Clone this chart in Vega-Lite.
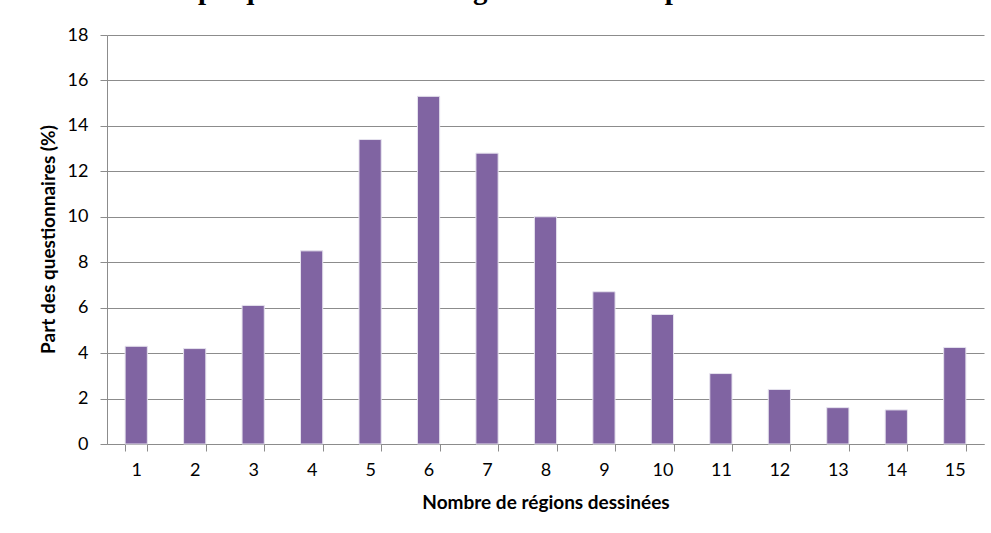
{
  "$schema": "https://vega.github.io/schema/vega-lite/v6.json",
  "width": 877,
  "height": 409,
  "autosize": "none",
  "padding": {"left": 107, "top": 35, "right": 7, "bottom": 89},
  "background": "white",
  "title": {
    "text": "Graphique : nombre de régions dessinées par les étudiants",
    "font": "Liberation Serif",
    "fontSize": 29,
    "fontWeight": "bold",
    "color": "black",
    "anchor": "middle",
    "baseline": "alphabetic",
    "offset": 0,
    "dy": 2,
    "dx": -37
  },
  "data": {
    "values": [
      {"n": 1, "pct": 4.3},
      {"n": 2, "pct": 4.2},
      {"n": 3, "pct": 6.1},
      {"n": 4, "pct": 8.5},
      {"n": 5, "pct": 13.4},
      {"n": 6, "pct": 15.3},
      {"n": 7, "pct": 12.8},
      {"n": 8, "pct": 10.0},
      {"n": 9, "pct": 6.7},
      {"n": 10, "pct": 5.7},
      {"n": 11, "pct": 3.1},
      {"n": 12, "pct": 2.4},
      {"n": 13, "pct": 1.6},
      {"n": 14, "pct": 1.5},
      {"n": 15, "pct": 4.25}
    ]
  },
  "mark": {"type": "bar", "color": "#8064A2", "stroke": "#e6e3ee", "strokeWidth": 1},
  "encoding": {
    "x": {
      "field": "n",
      "type": "ordinal",
      "sort": "ascending",
      "scale": {"paddingInner": 0.62, "paddingOuter": 0.31},
      "axis": {
        "title": "Nombre de régions dessinées",
        "labelAngle": 0,
        "tickBand": "extent",
        "grid": false,
        "domainColor": "#8c8c8c",
        "tickColor": "#8c8c8c",
        "tickSize": 7,
        "labelPadding": 10,
        "labelFont": "Lato",
        "labelFontSize": 18,
        "labelColor": "black",
        "titleFont": "Lato",
        "titleFontSize": 19,
        "titleFontWeight": "bold",
        "titleColor": "black",
        "titleBaseline": "middle",
        "titleY": 58
      }
    },
    "y": {
      "field": "pct",
      "type": "quantitative",
      "scale": {"domain": [0, 18], "nice": false},
      "axis": {
        "title": "Part des questionnaires (%)",
        "values": [0, 2, 4, 6, 8, 10, 12, 14, 16, 18],
        "grid": true,
        "gridColor": "#8c8c8c",
        "gridOpacity": 1,
        "domainColor": "#8c8c8c",
        "tickColor": "#8c8c8c",
        "tickSize": 7,
        "labelPadding": 12,
        "labelFont": "Lato",
        "labelFontSize": 18,
        "labelColor": "black",
        "titleFont": "Lato",
        "titleFontSize": 19,
        "titleFontWeight": "bold",
        "titleColor": "black",
        "titleX": -49,
        "titleY": 204
      }
    }
  },
  "config": {
    "view": {"stroke": null}
  }
}
